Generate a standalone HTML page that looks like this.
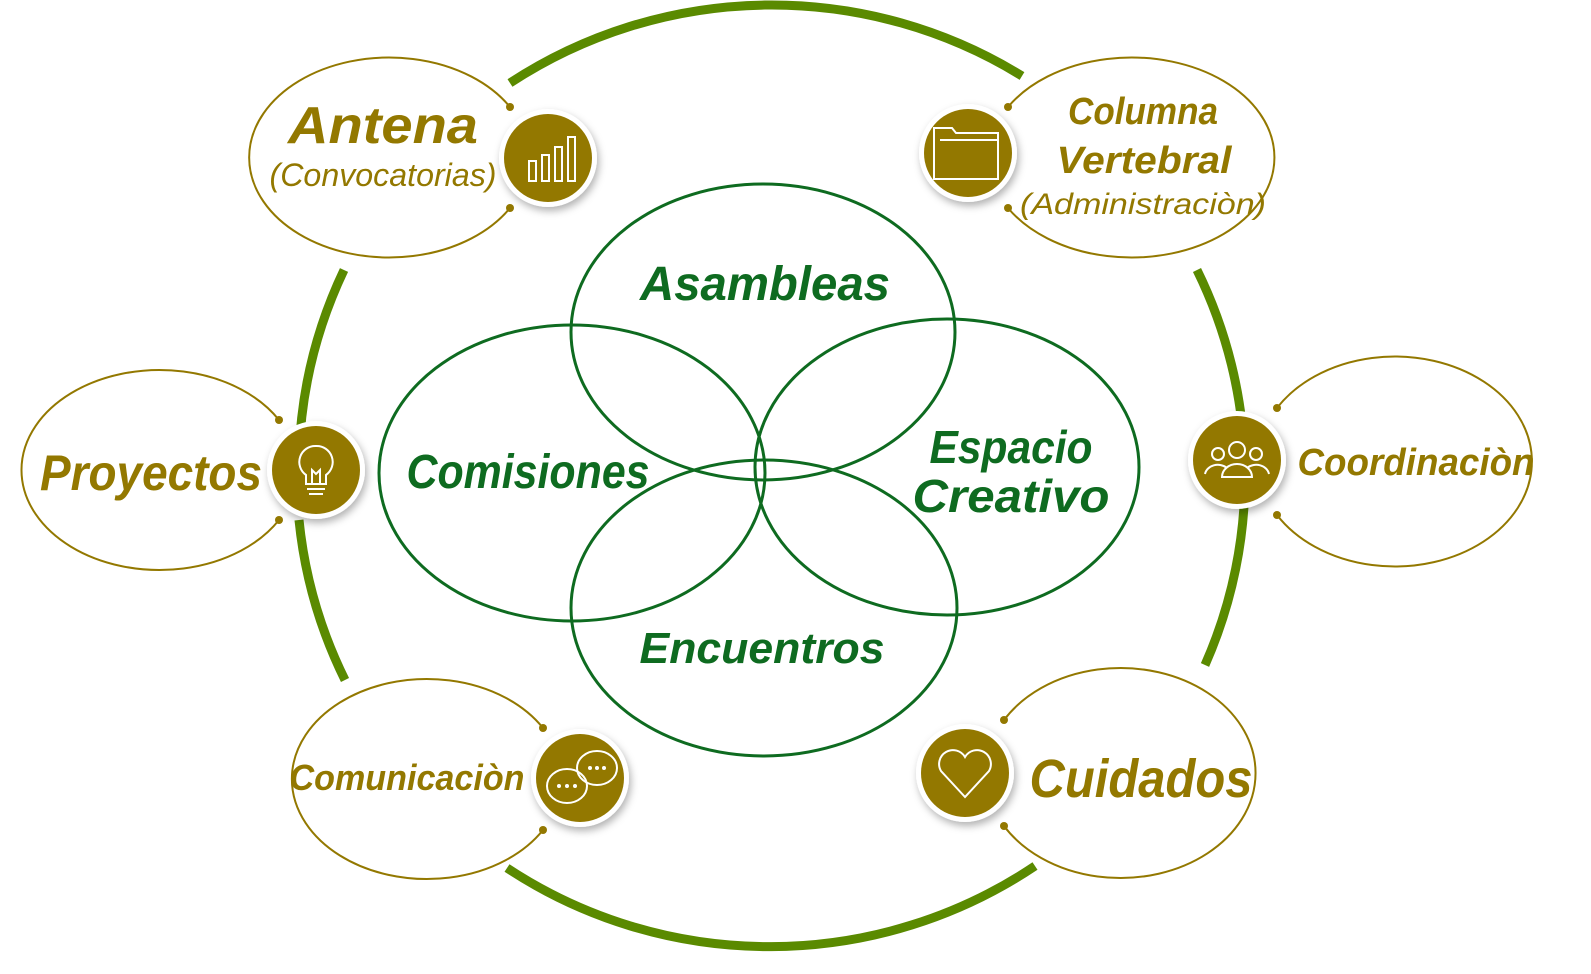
<!DOCTYPE html>
<html><head><meta charset="utf-8"><style>
html,body{margin:0;padding:0;background:#fff}
svg{display:block}
.o{font-family:"Liberation Sans",sans-serif;font-style:italic;fill:#937800;text-anchor:middle}
.g{font-family:"Liberation Sans",sans-serif;font-style:italic;font-weight:bold;fill:#0e6b20;text-anchor:middle}
</style></head><body>
<svg width="1591" height="974" viewBox="0 0 1591 974" xmlns="http://www.w3.org/2000/svg">
<defs>
<filter id="sh" x="-30%" y="-30%" width="160%" height="160%"><feDropShadow dx="2" dy="4" stdDeviation="4" flood-color="#000" flood-opacity="0.3"/></filter>
</defs>
<g fill="none" stroke="#5a8a00" stroke-width="9">
<path d="M510,83 A474 470 0 0 1 1022,76"/>
<path d="M1197,270 A474 470 0 0 1 1205,665"/>
<path d="M1035,866 A474 470 0 0 1 507,868"/>
<path d="M344,270 A474 470 0 0 0 299,455"/>
<path d="M299,520 A474 470 0 0 0 345,680"/>
</g>
<g fill="none" stroke="#0e6b20" stroke-width="3">
<ellipse cx="763" cy="332" rx="192" ry="148"/>
<ellipse cx="572" cy="473" rx="193" ry="148"/>
<ellipse cx="947" cy="467" rx="192" ry="148"/>
<ellipse cx="764" cy="608" rx="193" ry="148"/>
</g>
<text class="g" x="765" y="300" font-size="48" textLength="250" lengthAdjust="spacingAndGlyphs">Asambleas</text>
<text class="g" x="528" y="488" font-size="48" textLength="243" lengthAdjust="spacingAndGlyphs">Comisiones</text>
<text class="g" x="1011" y="463" font-size="46" textLength="163" lengthAdjust="spacingAndGlyphs">Espacio</text>
<text class="g" x="1011" y="512" font-size="46" textLength="197" lengthAdjust="spacingAndGlyphs">Creativo</text>
<text class="g" x="762" y="663" font-size="44" textLength="245" lengthAdjust="spacingAndGlyphs">Encuentros</text>
<g fill="none" stroke="#937800" stroke-width="2">
<path d="M510,107 A140 100 0 1 0 510,208"/>
<path d="M1008,107 A143 100 0 1 1 1008,208"/>
<path d="M279,420 A138 100 0 1 0 279,520"/>
<path d="M1277,408 A137 105 0 1 1 1277,515"/>
<path d="M543,728 A135 100 0 1 0 543,830"/>
<path d="M1004,720 A135 105 0 1 1 1004,826"/>
</g>
<g fill="#937800">
<circle cx="510" cy="107" r="4"/><circle cx="510" cy="208" r="4"/>
<circle cx="1008" cy="107" r="4"/><circle cx="1008" cy="208" r="4"/>
<circle cx="279" cy="420" r="4"/><circle cx="279" cy="520" r="4"/>
<circle cx="1277" cy="408" r="4"/><circle cx="1277" cy="515" r="4"/>
<circle cx="543" cy="728" r="4"/><circle cx="543" cy="830" r="4"/>
<circle cx="1004" cy="720" r="4"/><circle cx="1004" cy="826" r="4"/>
</g>
<g filter="url(#sh)">
<circle cx="548" cy="158" r="49" fill="#fff"/>
<circle cx="968" cy="153" r="49" fill="#fff"/>
<circle cx="316" cy="470" r="49" fill="#fff"/>
<circle cx="1237" cy="460" r="49" fill="#fff"/>
<circle cx="580" cy="778" r="49" fill="#fff"/>
<circle cx="965" cy="773" r="49" fill="#fff"/>
</g>
<g fill="#937800">
<circle cx="548" cy="158" r="44"/>
<circle cx="968" cy="153" r="44"/>
<circle cx="316" cy="470" r="44"/>
<circle cx="1237" cy="460" r="44"/>
<circle cx="580" cy="778" r="44"/>
<circle cx="965" cy="773" r="44"/>
</g>
<g fill="none" stroke="#fff" stroke-width="2">
<rect x="529" y="161" width="7" height="20"/><rect x="542" y="155" width="7" height="26"/><rect x="555" y="147" width="7" height="34"/><rect x="568" y="137" width="7" height="44"/>
<path d="M934,128 h18 l4,5 h42 v46 h-64 z"/><path d="M940,140 h58"/>
<path d="M316,446 a16,16 0 0 1 10,29 v9 h-20 v-9 a16,16 0 0 1 10,-29 z"/><path d="M307,489 h18 M309,494 h14"/><path d="M312,484 v-14 l4,4 l4,-4 v14"/>
<circle cx="1237" cy="450" r="8"/><circle cx="1218" cy="454" r="6"/><circle cx="1256" cy="454" r="6"/>
<path d="M1222,477 a15,13 0 0 1 30,0 z"/><path d="M1205,474 a13,11 0 0 1 22,-6"/><path d="M1269,474 a13,11 0 0 0 -22,-6"/>
<ellipse cx="597" cy="768" rx="20" ry="17"/><ellipse cx="567" cy="786" rx="20" ry="17"/>
<path d="M965,797 l-24,-26 a13,13 0 0 1 24,-14 a13,13 0 0 1 24,14 z"/>
</g>
<g fill="#fff"><circle cx="559" cy="786" r="2"/><circle cx="567" cy="786" r="2"/><circle cx="575" cy="786" r="2"/><circle cx="590" cy="768" r="2"/><circle cx="597" cy="768" r="2"/><circle cx="604" cy="768" r="2"/></g>
<text class="o" x="383" y="143" font-size="52" font-weight="bold" textLength="190" lengthAdjust="spacingAndGlyphs">Antena</text>
<text class="o" x="383" y="186" font-size="32" textLength="227" lengthAdjust="spacingAndGlyphs">(Convocatorias)</text>
<text class="o" x="1143" y="124" font-size="38" font-weight="bold" textLength="150" lengthAdjust="spacingAndGlyphs">Columna</text>
<text class="o" x="1144" y="173" font-size="38" font-weight="bold" textLength="175" lengthAdjust="spacingAndGlyphs">Vertebral</text>
<text class="o" x="1143" y="214" font-size="30" textLength="246" lengthAdjust="spacingAndGlyphs">(Administraciòn)</text>
<text class="o" x="151" y="490" font-size="50" font-weight="bold" textLength="222" lengthAdjust="spacingAndGlyphs">Proyectos</text>
<text class="o" x="1416" y="475" font-size="38" font-weight="bold" textLength="237" lengthAdjust="spacingAndGlyphs">Coordinaciòn</text>
<text class="o" x="407" y="790" font-size="36" font-weight="bold" textLength="235" lengthAdjust="spacingAndGlyphs">Comunicaciòn</text>
<text class="o" x="1141" y="797" font-size="54" font-weight="bold" textLength="223" lengthAdjust="spacingAndGlyphs">Cuidados</text>
</svg>
</body></html>
